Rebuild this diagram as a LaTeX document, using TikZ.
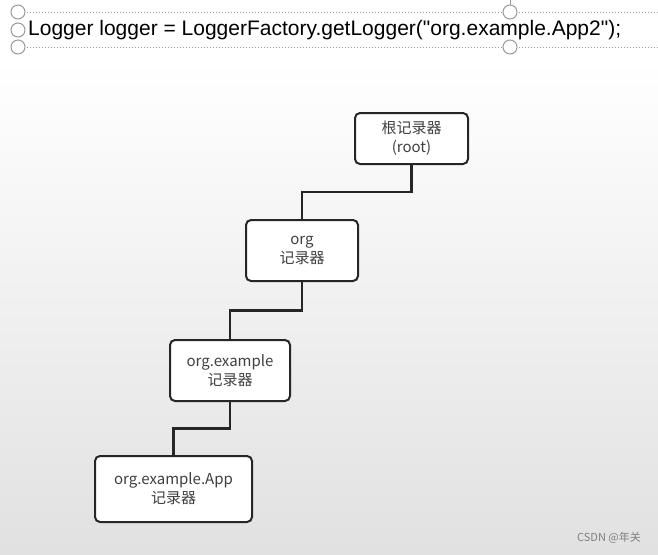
\documentclass[tikz,border=0pt]{standalone}
\usepackage{fontspec}
\setmainfont{Liberation Sans}[Ligatures=TeXOff]
\newfontfamily\cjk{Noto Sans CJK SC}
\usetikzlibrary{calc}

\definecolor{boxline}{HTML}{262626}
\definecolor{boxtext}{HTML}{404040}
\definecolor{handle}{HTML}{9A9A9A}
\definecolor{bgbottom}{HTML}{E1E1E1}

\tikzset{
  loggerbox/.style={draw=boxline, line width=2pt, rounded corners=5pt, fill=white,
    align=center, text=boxtext, inner sep=0pt, font=\cjk\fontsize{15}{19}\selectfont},
  wire/.style={draw=boxline, line width=2.4pt},
  grip/.style={draw=handle, fill=white, line width=1pt},
  frameline/.style={draw=handle, dotted, line width=1pt}
}

\begin{document}
\begin{tikzpicture}[x=1pt,y=-1pt]
  % Background
  \useasboundingbox (0,0) rectangle (658,554);
  \fill[white] (0,0) rectangle (658,60);
  \shade[top color=white, bottom color=bgbottom] (0,60) rectangle (658,554);

  % Text frame with handles
  \draw[frameline] (18,12) -- (658,12);
  \draw[frameline] (18,47) -- (658,47);
  \draw[handle, line width=1pt] (510,0) -- (510,5);
  \foreach \y in {12,30,47}
    \filldraw[grip] (18,\y) circle (7pt);
  \filldraw[grip] (510,12) circle (7pt);
  \filldraw[grip] (510,47) circle (7pt);
  \node[anchor=west, inner sep=0pt, font=\fontsize{21}{25}\selectfont] (code) at (28,30)
    {Logger logger = LoggerFactory.getLogger("org.example.App2");};

  % Logger boxes
  \node[loggerbox, minimum width=113pt, minimum height=51pt] (root) at (411.5,138.5) {根记录器\\(root)};
  \node[loggerbox, minimum width=112pt, minimum height=61pt] (org) at (302,250.5) {org\\记录器};
  \node[loggerbox, minimum width=120pt, minimum height=61pt] (orgex) at (230,370.5) {org.example\\记录器};
  \node[loggerbox, minimum width=157pt, minimum height=66pt] (orgapp) at (173.5,489) {org.example.App\\记录器};

  % Connectors
  \draw[wire] (root.south) |- ($(root.south)!.5!(org.north)$) -| (org.north);
  \draw[wire] (org.south) |- ($(org.south)!.5!(orgex.north)$) -| (orgex.north);
  \draw[wire] (orgex.south) |- ($(orgex.south)!.5!(orgapp.north)$) -| (orgapp.north);

  % Watermark
  \node[text=gray, font=\cjk\fontsize{11}{12}\selectfont] (mark) at (609,538) {CSDN @年关};
\end{tikzpicture}
\end{document}
